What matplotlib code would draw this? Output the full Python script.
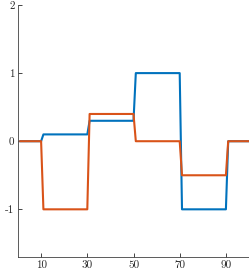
import numpy as np
import matplotlib
matplotlib.use("Agg")
import matplotlib.pyplot as plt

plt.rcParams['font.family'] = 'serif'
plt.rcParams['font.serif'] = ['cmr10']
plt.rcParams['mathtext.fontset'] = 'cm'
plt.rcParams['axes.unicode_minus'] = False
plt.rcParams['axes.formatter.use_mathtext'] = True

# step breakpoints
x = [1, 10, 11, 30, 31, 50, 51, 70, 71, 90, 91, 100]
y_blue = [0, 0, 0.1, 0.1, 0.3, 0.3, 1, 1, -1, -1, 0, 0]
y_orange = [0, 0, -1, -1, 0.4, 0.4, 0, 0, -0.5, -0.5, 0, 0]

xticks = [10, 30, 50, 70, 90]
yticks = [-1, 0, 1, 2]

fig = plt.figure(figsize=(2.49, 2.73), dpi=100)
ax = fig.add_axes([0.0723, 0.0586, 0.9277, 0.9231])

ax.plot(x, y_blue, color='#0072BD', lw=1.5)
ax.plot(x, y_orange, color='#D95319', lw=1.5)

ax.set_xlim(0, 100)
ax.set_ylim(-1.7, 2)
ax.set_xticks(xticks)
ax.set_yticks(yticks)
ax.set_xticklabels([str(t) for t in xticks])
ax.set_yticklabels([str(t) for t in yticks])
ax.tick_params(direction='in', length=3, width=0.6, labelsize=8, pad=2.5,
               colors='#262626')
ax.spines['top'].set_visible(False)
ax.spines['right'].set_visible(False)
ax.spines['left'].set_color('#404040')
ax.spines['bottom'].set_color('#404040')
ax.spines['left'].set_linewidth(0.6)
ax.spines['bottom'].set_linewidth(0.6)

fig.savefig('out.png', dpi=100)
